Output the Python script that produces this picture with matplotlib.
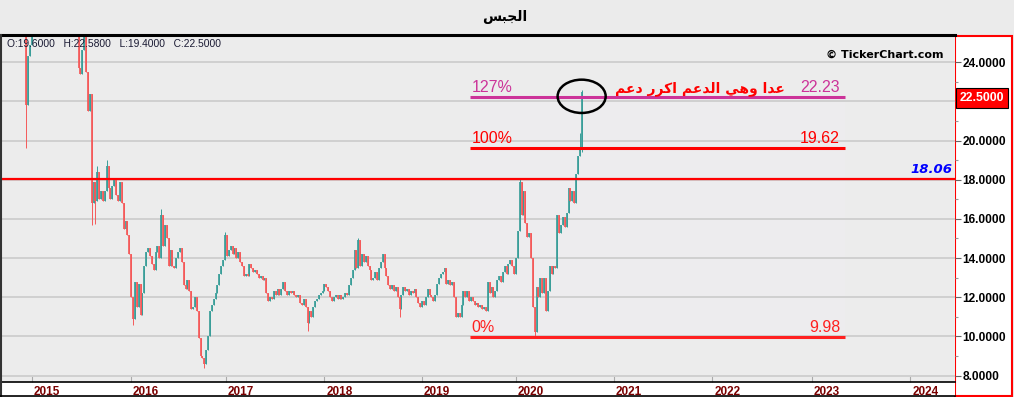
import numpy as np
import matplotlib
matplotlib.use("Agg")
import matplotlib.pyplot as plt
import matplotlib.transforms as mtransforms
from matplotlib.patches import Rectangle, Ellipse
from matplotlib.lines import Line2D

plt.rcParams['font.family'] = ['Liberation Sans', 'DejaVu Sans']

W, H = 1014, 397

# weekly closes (open = previous close), one bar per trading week from Dec 2014
first_open = 26.0
closes = [
    21.8, 24.3, 24.9, 25.9, 27.0, 27.8, 28.5, 29.2, 28.6, 29.5,
    30.1, 29.4, 28.8, 29.6, 30.4, 31.0, 30.2, 29.5, 28.9, 28.2,
    27.6, 28.4, 27.9, 27.1, 26.5, 26.9, 26.2, 25.8, 23.7, 23.4,
    24.6, 25.6, 23.5, 21.5, 22.4, 16.8, 17.9, 16.9, 18.4, 17.0,
    17.4, 16.9, 17.4, 18.7, 17.6, 17.0, 17.7, 18.0, 17.2, 16.9,
    17.9, 16.8, 15.5, 15.9, 15.2, 14.2, 12.0, 10.9, 12.8, 11.5,
    12.7, 11.1, 12.2, 13.6, 14.3, 14.5, 14.1, 13.7, 13.4, 14.3,
    14.6, 14.0, 16.2, 14.6, 15.7, 15.0, 13.6, 14.4, 13.6, 13.5,
    14.0, 14.3, 14.5, 13.8, 12.6, 12.4, 12.9, 12.3, 11.4, 11.5,
    12.0, 11.3, 9.9, 9.0, 8.9, 8.6, 9.3, 10.0, 11.3, 11.6,
    11.9, 12.2, 12.6, 13.2, 13.6, 13.9, 15.2, 14.1, 14.4, 14.6,
    14.2, 14.5, 14.0, 14.3, 13.8, 13.6, 13.1, 13.2, 13.1, 13.7,
    13.5, 13.3, 13.4, 13.2, 13.0, 13.1, 12.9, 13.0, 12.2, 11.8,
    12.0, 11.9, 12.3, 12.1, 12.4, 12.1, 12.4, 12.8, 12.3, 12.1,
    12.3, 12.2, 12.3, 12.1, 12.0, 12.1, 11.7, 11.6, 11.9, 11.5,
    10.7, 11.3, 11.0, 11.5, 11.8, 11.9, 12.1, 12.2, 12.3, 12.7,
    12.5, 12.3, 12.0, 11.8, 12.0, 12.1, 11.9, 12.1, 11.9, 12.0,
    12.2, 12.1, 12.6, 13.0, 13.4, 14.4, 13.5, 14.9, 13.6, 14.2,
    13.8, 14.1, 13.6, 13.4, 12.9, 13.0, 13.3, 12.9, 13.5, 13.8,
    14.2, 13.5, 13.1, 12.6, 12.4, 12.6, 12.3, 12.5, 12.0, 11.4,
    12.1, 12.5, 12.3, 12.4, 12.1, 12.3, 12.2, 12.4, 12.0, 11.7,
    11.5, 11.8, 11.6, 12.0, 12.4, 12.1, 12.0, 11.8, 12.1, 12.7,
    13.0, 13.2, 13.3, 13.5, 12.7, 12.9, 12.6, 12.8, 12.0, 11.0,
    11.2, 11.0, 11.6, 12.3, 12.0, 12.3, 11.8, 12.0, 11.8, 11.6,
    11.7, 11.5, 11.6, 11.4, 11.5, 11.3, 12.8, 12.2, 12.5, 12.0,
    12.3, 12.9, 13.1, 12.8, 13.3, 13.6, 13.2, 13.7, 13.9, 13.6,
    13.2, 14.0, 15.4, 17.9, 16.2, 17.4, 15.8, 15.1, 15.3, 14.0,
    11.5, 10.2, 12.5, 12.0, 13.0, 12.2, 13.0, 11.3, 12.3, 13.6,
    13.2, 13.6, 13.5, 16.2, 15.3, 15.7, 16.1, 15.6, 16.3, 17.6,
    16.9, 17.4, 16.8, 18.3, 19.2, 19.6, 22.5,
]
# visible wicks
low_idx = [0, 35, 37, 57, 95, 150, 199, 271, 296]
low_val = [19.6, 15.7, 15.75, 10.6, 8.37, 10.3, 11.0, 10.0, 19.4]
high_idx = [38, 43, 72, 106, 177, 263, 295, 296]
high_val = [18.7, 19.0, 16.5, 15.35, 15.0, 18.08, 20.4, 22.58]

# bar positions of the year marks (the axis counts bars, future years projected)
years = list(range(2015, 2025))
year_bar = [3.2, 55.8, 106.5, 158.9, 210.8, 261.0, 313.0, 365.5, 418.6, 471.0]

ohlc_text = "O:19.6000   H:22.5800   L:19.4000   C:22.5000"
last_price = 22.5
resist = 18.06
fib_labels = ["0%", "100%", "127%"]
fib_vals = [9.98, 19.62, 22.23]
fib_colors = ["#ff2020", "#ff0000", "#cc3399"]
fib_from, fib_to = 236.5, 436.3
price_ticks = list(range(8, 25, 2))

# arabic, pre-shaped and in visual order
title = "\uFEB2\uFE92\uFEA0\uFEDF\uFE8D"  # الجبس
note = ("\uFEE2\uFECB\uFEA9 \uFEAD\uFEAE\uFEDB\uFE8D \uFEE2\uFECB\uFEAA\uFEDF\uFE8D "
        "\uFEF2\uFEEB\uFEED \uFE8D\uFEAA\uFECB")  # عدا وهي الدعم اكرر دعم

c = np.array(closes)
x = np.arange(len(c))
o = np.r_[first_open, c[:-1]]
hi = np.maximum(o, c)
lo = np.minimum(o, c)
body_lo, body_hi = lo.copy(), hi.copy()
hi[high_idx] = high_val
lo[low_idx] = low_val
up = c >= o

fig = plt.figure(figsize=(W / 100, H / 100), dpi=100)
fig.patch.set_facecolor("#ebebeb")

# price panel and date strip backgrounds
fig.add_artist(Rectangle((955 / W, 1 / H), 57 / W, 360 / H, transform=fig.transFigure,
                         fc="white", ec="#ff0000", lw=1.5, zorder=-1))
fig.add_artist(Rectangle((0, 1 / H), 955 / W, 14 / H, transform=fig.transFigure,
                         fc="white", ec="none", zorder=-1))

ax = fig.add_axes([2 / W, 15 / H, 953 / W, 346 / H])
ax.set_facecolor("#ececec")
ax.set_ylim(7.67, 25.34)
ax.set_xlim(-12.8, 494.9)

for s in ["top", "left", "right"]:
    ax.spines[s].set_visible(False)
ax.spines["bottom"].set_color("black")
ax.spines["bottom"].set_linewidth(1.2)

ax.grid(axis="y", color="#d0d0d0", lw=1.4)
ax.set_axisbelow(True)

up_col, dn_col = "#3a9e99", "#f55a5a"
for m, col in [(up, up_col), (~up, dn_col)]:
    ax.vlines(x[m], lo[m], hi[m], color=col, lw=0.7, zorder=2)
    ax.vlines(x[m], body_lo[m], body_hi[m], color=col, lw=1.25, zorder=2)

# resistance line
ax.axhline(resist, color="#ff0000", lw=1.6, zorder=3)
ax.annotate(f"{resist:.2f}", xy=(1, resist), xycoords=("axes fraction", "data"),
            xytext=(-2, 4), textcoords="offset points", ha="right", va="baseline",
            color="#0000ff", fontsize=9.5, fontweight="bold", fontstyle="italic",
            family="DejaVu Sans")

# fibonacci levels
ax.add_patch(Rectangle((fib_from, fib_vals[0]), fib_to - fib_from, fib_vals[2] - fib_vals[0],
                       fc="#edecee", ec="none", zorder=0.5))
for lab, v, col in zip(fib_labels, fib_vals, fib_colors):
    ax.hlines(v, fib_from, fib_to, color=col, lw=2.2, zorder=3)
    ax.annotate(lab, xy=(fib_from, v), xytext=(1.2, 3.5), textcoords="offset points",
                ha="left", va="baseline", color=col, fontsize=11.5)
    ax.annotate(f"{v:.2f}", xy=(fib_to, v), xytext=(-3.6, 3.5), textcoords="offset points",
                ha="right", va="baseline", color=col, fontsize=11.5)
ax.annotate(note, xy=(fib_to, fib_vals[2]), xytext=(-43.5, 3.5), textcoords="offset points",
            ha="right", va="baseline", color="#ff0000", fontsize=10, fontweight="bold",
            family="DejaVu Sans")

ax.add_patch(Ellipse((x[-1], fib_vals[2] + 0.03), 25.6, 1.7, fill=False, ec="black",
                     lw=1.8, zorder=4))

# axes ticks (the 22 label sits under the price tag)
ax.yaxis.tick_right()
ax.set_yticks(price_ticks)
ax.set_yticks(np.arange(9, 25, 2), minor=True)
ax.set_yticklabels(["" if v == 22 else f"{v:.4f}" for v in price_ticks])
ax.tick_params(axis="y", which="major", direction="out", length=4, width=0.8, color="#666666",
               pad=1.5, labelsize=8.6, labelcolor="black")
ax.tick_params(axis="y", which="minor", direction="out", length=2, width=0.8, color="#999999")
for t in ax.get_yticklabels():
    t.set_fontweight("bold")

ax.set_xticks(year_bar)
ax.set_xticklabels([str(yy) for yy in years])
ax.tick_params(axis="x", direction="in", length=4, width=0.8, color="#aaaaaa",
               pad=3, labelsize=8.5, labelcolor="#7a0000")
shift = mtransforms.ScaledTranslation(1.5 / 72, 0, fig.dpi_scale_trans)
for t in ax.get_xticklabels():
    t.set_fontweight("bold")
    t.set_ha("left")
    t.set_transform(t.get_transform() + shift)

# current price tag
ax.annotate(f"{last_price:.4f}", xy=(1, last_price), xycoords=("axes fraction", "data"),
            xytext=(3.2, -4.7), textcoords="offset points", ha="left", va="center",
            color="white", fontsize=8.8, fontweight="bold",
            bbox=dict(boxstyle="square,pad=0.3", fc="#ff0000", ec="black", lw=0.8),
            annotation_clip=False, zorder=6)

# frame lines
fig.add_artist(Line2D([0, 955 / W], [1 - 35 / H, 1 - 35 / H], color="black", lw=2.2))
fig.add_artist(Line2D([1 / W, 1 / W], [0, 1 - 35 / H], color="#333333", lw=1.5))
fig.add_artist(Line2D([0, 955 / W], [1 / H, 1 / H], color="black", lw=1.2))

fig.text(505 / W, 1 - 17 / H, title, ha="center", va="center", fontsize=10,
         fontweight="bold", family="DejaVu Sans")
fig.text(7 / W, 1 - 44 / H, ohlc_text, ha="left", va="center", fontsize=7.4, color="#1a1a33")
fig.text(943 / W, 1 - 55 / H, "\u00a9 TickerChart.com", ha="right", va="center",
         fontsize=8, fontweight="bold", family="DejaVu Sans")

fig.savefig("out.png", dpi=100, facecolor=fig.get_facecolor())
